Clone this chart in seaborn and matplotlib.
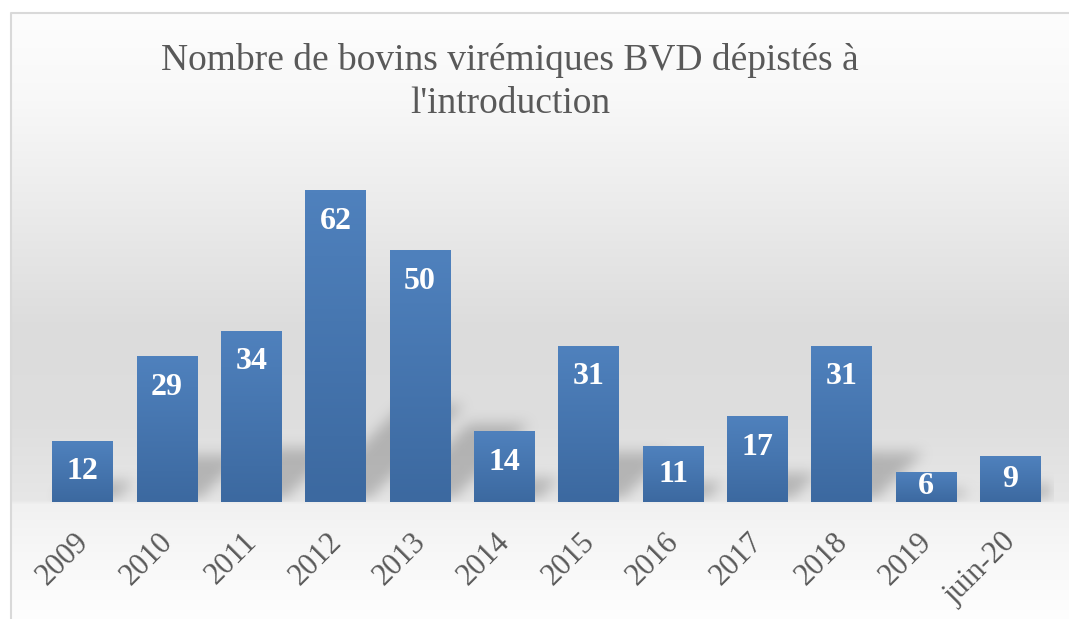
import numpy as np
import matplotlib
matplotlib.use("Agg")
import matplotlib.pyplot as plt
import matplotlib.transforms as mtransforms
from matplotlib.colors import LinearSegmentedColormap
import seaborn as sns

years = ["2009", "2010", "2011", "2012", "2013", "2014", "2015", "2016",
         "2017", "2018", "2019", "juin-20"]
counts = [12, 29, 34, 62, 50, 14, 31, 11, 17, 31, 6, 9]
title = "Nombre de bovins virémiques BVD dépistés à\nl'introduction"

sns.set_style("white")
plt.rcParams['font.family'] = ['Liberation Serif', 'DejaVu Serif']

W, H = 1069, 619
fig = plt.figure(figsize=(W / 100, H / 100), dpi=100)

# background: grey gradient inside a light border
bg = fig.add_axes([0, 0, 1, 1], zorder=-1)
rows = np.arange(H)
levels = np.interp(rows, [12, 100, 200, 330, 420, 500, 504, 560, 619],
                   [253, 248, 236, 220, 222, 231, 241, 248, 254]) / 255
img = np.ones((H, W, 3))
img[12:, 10:, :] = levels[12:, None, None]
bg.imshow(img, extent=(0, W, H, 0), aspect='auto')
bg.plot([10.5, 10.5, W], [H, 12.5, 12.5], color='#d9d9d9', lw=1.5)
bg.set_xlim(0, W)
bg.set_ylim(H, 0)
bg.axis('off')

ax = fig.add_axes([40.5 / W, 117.3 / H, 1012.2 / W, 352 / H])
ax.patch.set_alpha(0)
sns.barplot(x=years, y=counts, color='#4a78b3', saturation=1, width=0.72,
            linewidth=0, ax=ax)
ymax = 70
ax.set_xlim(-0.5, len(years) - 0.5)
ax.set_ylim(0, ymax)

# soft perspective shadows behind the bars
nx, ny = 1012, 352
ppx = nx / len(years)
ppy = ny / ymax
gx = np.arange(nx) + 0.5
gy = np.arange(ny) + 0.5
mask = np.zeros((ny, nx))
for i, v in enumerate(counts):
    hp = v * ppy
    x0 = (i + 0.5) * ppx - 0.36 * ppx
    x1 = (i + 0.5) * ppx + 0.36 * ppx
    sh = 0.3 * hp
    yy = gy[:, None] - 3
    inside = (yy >= 0) & (yy <= sh)
    left = x0 + 3 + yy
    right = x1 + 3 + yy
    m = inside & (gx[None, :] >= left) & (gx[None, :] <= right)
    mask = np.maximum(mask, m.astype(float))

def box_blur(a, r, axis):
    k = np.ones(2 * r + 1) / (2 * r + 1)
    return np.apply_along_axis(lambda s: np.convolve(s, k, mode='same'), axis, a)

for _ in range(3):
    mask = box_blur(mask, 6, 0)
    mask = box_blur(mask, 6, 1)

shadow = np.zeros((ny, nx, 4))
shadow[..., :3] = 0.4
shadow[..., 3] = mask * 0.38
ax.imshow(shadow, extent=(-0.5, len(years) - 0.5, 0, ymax), origin='lower',
          aspect='auto', zorder=1)

# gradient fill for the bars
bar_cmap = LinearSegmentedColormap.from_list('bars', ['#3c69a0', '#4f81bd'])
grad = np.linspace(0, 1, 100)[:, None]
for p in ax.patches:
    p.set_zorder(2)
    x, w, h = p.get_x(), p.get_width(), p.get_height()
    im = ax.imshow(grad, extent=(x, x + w, 0, h), origin='lower', aspect='auto',
                   cmap=bar_cmap, zorder=3)
    im.set_clip_path(p)

ax.set_xlim(-0.5, len(years) - 0.5)
ax.set_ylim(0, ymax)

for i, v in enumerate(counts):
    ax.text(i, v - min(6.2, v / 2), str(v), ha='center', va='center',
            color='white', fontsize=23, fontweight='bold', zorder=4)

ax.set_xlabel("")
ax.set_ylabel("")
ax.set_yticks([])
ax.tick_params(axis='x', length=0, pad=26, labelsize=22, labelcolor='#595959')
for lab in ax.get_xticklabels():
    lab.set_rotation(45)
    lab.set_ha('right')
    lab.set_va('center')
    lab.set_rotation_mode('anchor')
    lab.set_transform(lab.get_transform() +
                      mtransforms.ScaledTranslation(1 / 72, 0, fig.dpi_scale_trans))
sns.despine(ax=ax, left=True, bottom=True)

fig.text(510 / W, 1 - 82 / H, title, ha='center', va='center', fontsize=27,
         color='#595959', linespacing=1.3)

fig.savefig("out.png", dpi=100)
